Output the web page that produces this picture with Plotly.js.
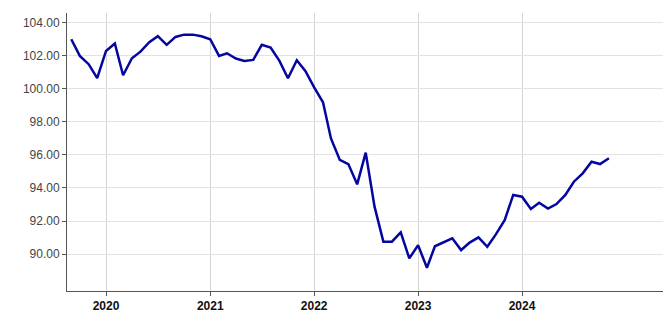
<!DOCTYPE html>
<html>
<head>
<meta charset="utf-8">
<script src="https://cdn.plot.ly/plotly-3.0.1.min.js"></script>
<style>html,body{margin:0;padding:0;background:#fff;}#chart{width:663px;height:320px;}</style>
</head>
<body>
<div id="chart"></div>
<script>
var startYear = 2019, startMonth = 9;
var values = [
  103.01, 102.0, 101.5, 100.65,
  102.3, 102.75, 100.83, 101.86, 102.26, 102.83, 103.2, 102.67, 103.15, 103.29, 103.29, 103.19,
  103.01, 102.0, 102.16, 101.84, 101.7, 101.76, 102.67, 102.5, 101.7, 100.65, 101.74, 101.09,
  100.1, 99.19, 97.0, 95.7, 95.45, 94.22, 96.14, 92.87, 90.75, 90.75, 91.31, 89.74,
  90.53, 89.17, 90.47, 90.69, 90.95, 90.24, 90.69, 91.01, 90.44, 91.19, 92.05, 93.58,
  93.47, 92.73, 93.11, 92.75, 93.03, 93.58, 94.38, 94.89, 95.59, 95.45, 95.8
];
var dates = values.map(function(v, i){
  var m = startMonth - 1 + i;
  var y = startYear + Math.floor(m / 12);
  var mm = (m % 12) + 1;
  return y + '-' + (mm < 10 ? '0' : '') + mm + '-01';
});
var yearTicks = ['2020-01-01','2021-01-01','2022-01-01','2023-01-01','2024-01-01'];
var yearLabels = ['2020','2021','2022','2023','2024'];
var yTicks = [90, 92, 94, 96, 98, 100, 102, 104];

Plotly.newPlot('chart', [{
  x: dates, y: values, type: 'scatter', mode: 'lines',
  line: {color: '#0505a0', width: 2.5}, hoverinfo: 'x+y'
}], {
  width: 663, height: 320,
  margin: {l: 67, r: 0, t: 13, b: 29},
  paper_bgcolor: '#fff', plot_bgcolor: '#fff',
  showlegend: false,
  font: {family: 'Liberation Sans, Arial, sans-serif'},
  xaxis: {
    type: 'date', range: ['2019-08-17', '2025-05-10'],
    tickmode: 'array', tickvals: yearTicks, ticktext: yearLabels,
    showgrid: true, gridcolor: '#d4d4d4', gridwidth: 1,
    showline: true, linecolor: '#555', linewidth: 1,
    ticks: 'outside', ticklen: 4, tickcolor: '#555',
    tickfont: {size: 12, color: '#111', weight: 'bold'},
    zeroline: false
  },
  yaxis: {
    range: [87.76, 104.6], tickmode: 'array', tickvals: yTicks,
    ticktext: yTicks.map(function(v){ return v.toFixed(2); }),
    showgrid: true, gridcolor: '#e3e3e3', gridwidth: 1,
    showline: true, linecolor: '#555', linewidth: 1,
    ticks: 'outside', ticklen: 4, tickcolor: '#555',
    tickfont: {size: 12, color: '#444'},
    zeroline: false
  }
}, {displayModeBar: false, staticPlot: true});
</script>
</body>
</html>
